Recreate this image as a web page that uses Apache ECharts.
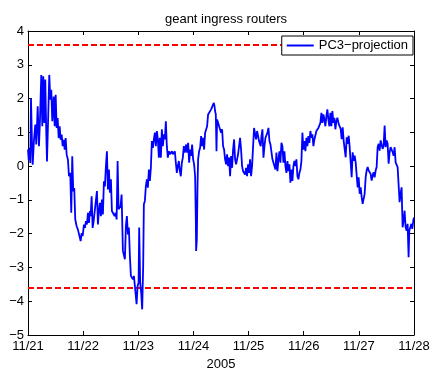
<!DOCTYPE html>
<html>
<head>
<meta charset="utf-8">
<script src="https://cdn.jsdelivr.net/npm/echarts@6/dist/echarts.min.js"></script>
<style>
  html, body { margin: 0; padding: 0; background: #fff; }
  #chart { width: 435px; height: 368px; }
</style>
</head>
<body>
<div id="chart"></div>
<script>
const chartTitle = 'geant ingress routers';
const seriesName = 'PC3\u2212projection';
const yearLabel = '2005';
const dayLabels = ['11/21', '11/22', '11/23', '11/24', '11/25', '11/26', '11/27', '11/28'];
const yTicks = [-5, -4, -3, -2, -1, 0, 1, 2, 3, 4];
const thresholds = [3.6, -3.6];

// Hours since 11/21 00:00 and the PC3 projection, one pair of arrays per stretch.
const hoursA = [0, 0.3, 0.74, 1.0, 1.3, 1.74, 2.04, 2.61, 3.17, 3.61, 4.22, 4.78, 5.22, 5.78, 6.22,
  6.65, 7.09, 7.52, 7.96, 8.26, 8.7, 9.26, 9.7, 10.13, 10.57, 11.17, 11.61, 12.04, 12.48, 12.91,
  13.35, 13.78, 14.22, 14.65, 15.09, 15.52, 15.96, 16.39, 16.83, 17.39, 17.83, 18.39, 18.83, 19.26, 19.7,
  20.13, 20.57, 21.17, 21.74, 22.3, 22.91, 23.35, 23.78, 24.35, 24.78, 25.22, 25.65, 26.09, 26.52, 26.96,
  27.26, 27.7, 28.13, 28.57, 29.0, 29.43, 30.0, 30.43, 30.87, 31.3, 31.74, 32.17, 32.61, 33.04, 33.48,
  33.91, 34.35];
const pc3A = [0.49, 0.19, 0.54, 0.09, 2.01, 0.68, 0.04, 0.78, 1.23, 0.64, 1.77, 0.59, 1.37, 2.70, 1.18,
  2.66, 1.28, 2.56, 0.98, 0.14, 1.23, 2.70, 1.97, 2.26, 1.33, 2.06, 1.18, 2.11, 1.13, 1.42,
  0.83, 1.18, 0.78, 0.93, 0.59, 0.78, 0.49, 0.83, 0.34, 0.19, -0.30, -0.20, -1.38, 0.29, -0.74,
  -0.65, -1.58, -1.78, -1.88, -1.83, -2.22, -1.98, -2.07, -1.73, -1.83, -1.63, -1.73, -1.38, -1.68, -1.33,
  -1.48, -0.89, -1.83, -1.63, -1.58, -1.68, -0.74, -1.73, -1.33, -1.09, -1.48, -0.99, -1.43, -0.45, -0.60,
  0.00, 0.44];

const hoursB = [34.78, 35.22, 35.65, 36.09, 36.52, 37.09, 37.7, 38.13, 38.57, 39.0, 39.43, 39.87, 40.3, 40.74, 41.3,
  41.74, 42.17, 42.61, 43.04, 43.48, 43.91, 44.35, 44.78, 45.22, 45.65, 46.09, 46.52, 46.96, 47.26, 47.7,
  48.13, 48.39, 48.83, 49.26, 49.7, 50.13, 50.43, 50.87, 51.3, 51.74, 52.17, 52.61, 53.04, 53.48, 53.91,
  54.35, 54.78, 55.22, 55.65, 56.09, 56.52, 56.96, 57.39, 57.83, 58.26, 58.7, 59.13, 59.57, 60.0, 60.43,
  60.87, 61.3, 61.74, 62.17, 62.61, 63.04, 63.48, 63.91, 64.35, 64.78, 65.22, 65.65, 66.09, 66.52, 66.96,
  67.39, 67.83, 68.26];
const pc3B = [-0.69, -0.10, -0.79, -0.39, -1.33, -1.38, -1.48, -1.38, -1.58, 0.15, -1.28, -1.23, -1.18, -0.84, -2.51,
  -2.46, -2.76, -1.77, -1.48, -2.02, -1.82, -2.66, -3.25, -3.30, -3.35, -3.25, -3.55, -3.60, -4.09, -3.55,
  -3.45, -1.82, -3.45, -3.75, -4.24, -2.96, -1.13, -1.03, -0.59, -0.39, -0.64, -0.10, -0.44, -0.05, 0.74,
  0.54, 0.79, 0.99, 0.59, 1.04, 0.79, 0.25, 0.84, 0.25, 1.09, 0.59, 0.94, 0.79, 1.33, 0.59,
  0.25, 0.44, 0.35, 0.40, 0.44, 0.35, 0.40, 0.44, 0.10, -0.20, 0.00, 0.15, -0.15, -0.30, 0.10,
  0.25, 0.59, 0.40];

const hoursC = [68.83, 69.26, 69.7, 70.13, 70.57, 71.0, 71.43, 71.87, 72.3, 72.74, 73.04, 73.17, 73.48, 73.78, 74.04,
  74.48, 74.91, 75.35, 75.78, 76.22, 76.65, 77.09, 77.52, 77.96, 78.39, 78.83, 79.26, 79.7, 80.13, 80.57,
  80.87, 81.17, 81.43, 81.74, 82.04, 82.3, 82.74, 83.17, 83.61, 84.04, 84.48, 84.91, 85.35, 85.78, 86.22,
  86.65, 87.09, 87.52, 87.96, 88.39, 88.83, 89.26, 89.7, 90.13, 90.57, 91.0, 91.43, 91.87, 92.3, 92.74,
  93.17, 93.61, 94.04, 94.48, 94.91, 95.35, 95.78, 96.22, 96.65, 97.09, 97.52, 97.96, 98.39, 98.83, 99.26,
  99.7, 100.13, 100.57];
const pc3C = [0.64, 0.40, 0.69, 0.10, 0.49, 0.30, 0.64, 0.20, 0.05, -0.30, -1.58, -2.51, -2.17, -0.59, 0.20,
  0.44, 0.54, 0.89, 0.59, 0.84, 0.49, 0.99, 0.94, 1.18, 1.53, 1.48, 1.58, 1.68, 1.63, 1.73,
  1.87, 1.78, 1.63, 1.53, 0.44, 1.38, 1.28, 1.18, 1.23, 0.99, 1.09, 0.59, 0.49, 0.20, 0.05,
  0.35, 0.00, 0.25, -0.30, 0.30, -0.05, 0.49, 0.79, 0.20, 0.05, 0.20, 0.35, 0.30, 0.84, 0.49,
  0.00, -0.15, -0.20, -0.25, -0.05, -0.30, 0.05, -0.20, 0.20, -0.30, 0.00, -0.05, 1.13, 1.09, 0.79,
  1.04, 0.89, 0.74];

const hoursD = [100.87, 101.3, 101.61, 102.04, 102.48, 102.91, 103.35, 103.78, 104.22, 104.65, 105.09, 105.52, 105.96, 106.39, 106.83,
  107.26, 107.7, 108.13, 108.57, 109.0, 109.43, 109.87, 110.3, 110.74, 111.17, 111.61, 112.04, 112.48, 112.91, 113.35,
  113.78, 114.22, 114.65, 115.09, 115.52, 115.96, 116.39, 116.83, 117.26, 117.7, 118.13, 118.57, 119.0, 119.43, 119.87,
  120.3, 120.74, 121.17, 121.61, 122.04, 122.48, 122.91, 123.35, 123.78, 124.22, 124.65, 125.09, 125.52, 125.96, 126.39,
  126.83, 127.26, 127.7, 128.13, 128.57, 129.0, 129.43, 129.87, 130.3, 130.74, 131.17, 131.61, 132.04, 132.48, 132.91,
  133.35, 133.78, 134.22, 134.65];
const pc3D = [0.79, 0.59, 0.89, 1.09, 0.25, 0.59, 0.84, 0.79, 0.99, 1.13, 0.74, 0.64, 0.69, 0.20, 0.10,
  0.15, -0.10, 0.40, -0.15, 0.20, 0.44, 0.10, 0.69, 0.59, 0.10, 0.44, 0.00, -0.20, 0.15, -0.15,
  0.05, -0.49, -0.10, -0.44, 0.00, 0.15, 0.00, 0.20, -0.30, -0.39, -0.20, -0.10, 0.15, 0.99, 0.49,
  0.74, 0.44, 0.84, 0.59, 0.89, 0.69, 1.04, 0.84, 0.94, 0.59, 0.79, 0.74, 1.04, 0.99, 1.13,
  1.09, 1.28, 1.58, 1.28, 1.53, 1.38, 1.18, 1.48, 1.68, 1.38, 1.18, 1.58, 1.18, 1.63, 1.28,
  1.43, 1.09, 1.33, 1.43];

const hoursE = [135.22, 135.65, 136.09, 136.52, 136.96, 137.39, 137.83, 138.26, 138.7, 139.13, 139.57, 140.0, 140.43, 140.87, 141.3,
  141.74, 142.17, 142.61, 143.04, 143.48, 143.91, 144.35, 144.78, 145.22, 145.65, 146.09, 146.52, 146.96, 147.39, 147.83,
  148.26, 148.7, 149.13, 149.57, 150.0, 150.43, 150.87, 151.3, 151.74, 152.17, 152.61, 153.04, 153.48, 153.91, 154.35,
  154.78, 155.22, 155.65, 156.09, 156.52, 156.96, 157.39, 157.83, 158.26, 158.7, 159.13, 159.57, 160.0, 160.43, 160.87,
  161.3, 161.74, 162.17, 162.61, 163.04, 163.48, 163.91, 164.35, 164.78, 165.22, 165.65, 165.96, 166.39, 166.83, 167.26,
  167.7, 168];
const pc3E = [1.25, 1.30, 1.10, 0.80, 1.15, 0.75, 0.71, 0.26, 0.85, 0.66, 0.90, 0.56, 0.51, -0.33, 0.41,
  0.16, 0.31, 0.11, 0.11, -0.63, -0.33, -0.82, -0.63, -0.92, -1.12, -1.17, -0.82, -0.33, -0.13, -0.03,
  -0.13, -0.08, -0.23, -0.43, -0.28, -0.18, -0.33, -0.13, -0.03, 0.56, 0.66, 0.46, 0.76, 0.80, 0.51,
  0.61, 1.20, 0.56, 0.76, 0.66, 0.07, 0.41, 0.56, 0.51, 0.41, 0.31, 0.56, 0.11, 0.07, -0.03,
  -0.03, -1.07, -0.82, -0.63, -1.81, -1.61, -1.32, -1.81, -1.91, -1.71, -2.70, -1.91, -1.81, -1.71, -1.86,
  -1.61, -1.52];

const hours = [].concat(hoursA, hoursB, hoursC, hoursD, hoursE);
const pc3 = [].concat(pc3A, pc3B, pc3C, pc3D, pc3E);
const points = hours.map((h, i) => [h, pc3[i]]);

const FONT = '"Liberation Sans", Arial, Helvetica, sans-serif';
const BLACK = '#000';

const frameLine = { show: true, onZero: false, lineStyle: { color: BLACK, width: 1 } };
const innerTick = { show: true, inside: true, length: 4, lineStyle: { color: BLACK, width: 1 } };
const minusSign = v => (v < 0 ? '\u2212' + (-v) : String(v));
const xRange = { type: 'value', min: 0, max: 24 * (dayLabels.length - 1), interval: 24 };
const yRange = { type: 'value', min: yTicks[0], max: yTicks[yTicks.length - 1], interval: 1 };

const chart = echarts.init(document.getElementById('chart'), null, { renderer: 'canvas' });
chart.setOption({
  animation: false,
  backgroundColor: '#fff',
  title: {
    text: chartTitle,
    left: 221,
    top: 8,
    textAlign: 'center',
    textStyle: { fontFamily: FONT, fontSize: 13, fontWeight: 'normal', color: BLACK }
  },
  legend: {
    data: [{ name: seriesName, icon: 'rect' }],
    right: 22,
    top: 36,
    z: 50,
    itemWidth: 27,
    itemHeight: 2,
    padding: [3, 5, 3, 5],
    borderColor: BLACK,
    borderWidth: 1,
    backgroundColor: '#fff',
    selectedMode: false,
    textStyle: { fontFamily: FONT, fontSize: 13, color: BLACK }
  },
  grid: { left: 28, right: 21, top: 31, bottom: 33, outerBoundsMode: 'none', containLabel: false },
  xAxis: [
    Object.assign({}, xRange, {
      position: 'bottom',
      axisLine: frameLine,
      axisTick: innerTick,
      splitLine: { show: false },
      axisLabel: {
        margin: 5, color: BLACK, fontFamily: FONT, fontSize: 13,
        formatter: v => dayLabels[Math.round(v / 24)]
      },
      name: yearLabel,
      nameLocation: 'middle',
      nameGap: 20,
      nameTextStyle: { fontFamily: FONT, fontSize: 13, color: BLACK }
    }),
    Object.assign({}, xRange, {
      position: 'top',
      axisLine: frameLine,
      axisTick: innerTick,
      splitLine: { show: false },
      axisLabel: { show: false }
    })
  ],
  yAxis: [
    Object.assign({}, yRange, {
      position: 'left',
      axisLine: frameLine,
      axisTick: innerTick,
      splitLine: { show: false },
      axisLabel: { margin: 4, color: BLACK, fontFamily: FONT, fontSize: 13, formatter: minusSign }
    }),
    Object.assign({}, yRange, {
      position: 'right',
      axisLine: frameLine,
      axisTick: innerTick,
      splitLine: { show: false },
      axisLabel: { show: false }
    })
  ],
  series: [{
    name: seriesName,
    type: 'line',
    data: points,
    showSymbol: false,
    symbol: 'none',
    itemStyle: { color: '#0000ff' },
    lineStyle: { color: '#0000ff', width: 1.8 },
    markLine: {
      silent: true,
      symbol: 'none',
      z: 3,
      label: { show: false },
      lineStyle: { color: '#ff0000', type: [6, 3], width: 2 },
      data: thresholds.map(t => ({ yAxis: t }))
    }
  }]
});
</script>
</body>
</html>
